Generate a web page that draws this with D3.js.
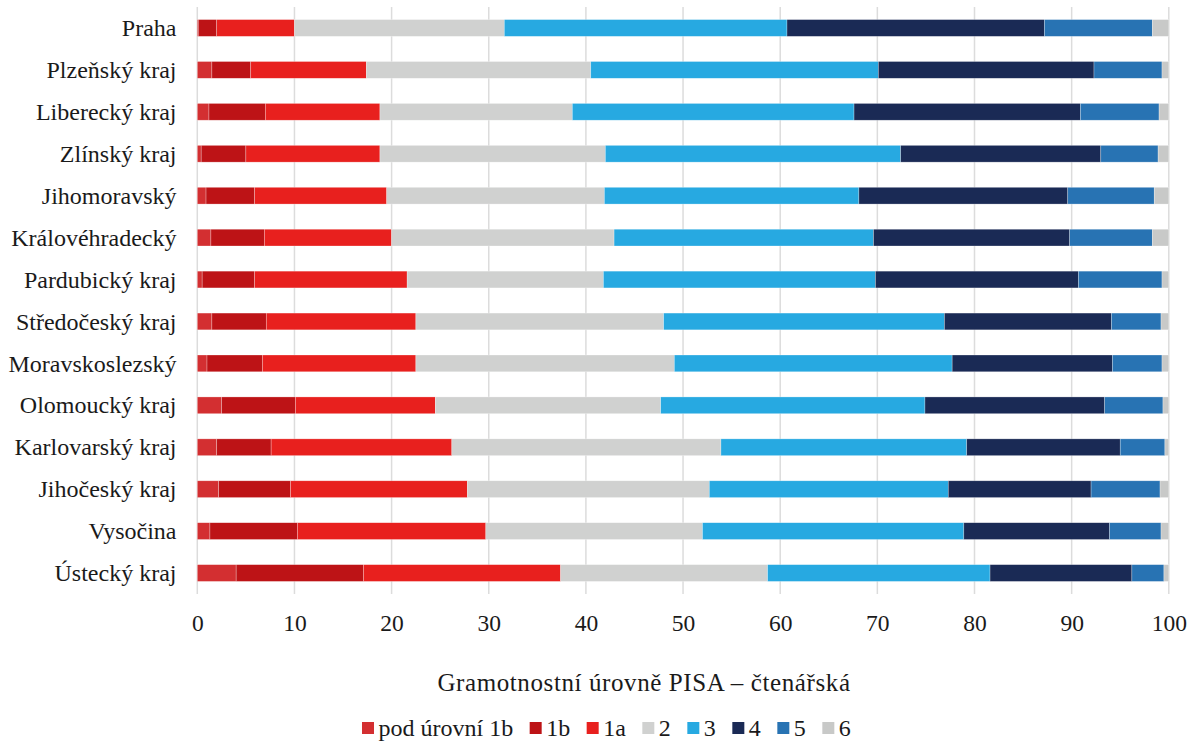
<!DOCTYPE html>
<html>
<head>
<meta charset="utf-8">
<script src="https://cdn.jsdelivr.net/npm/d3@7"></script>
</head>
<body style="margin:0">
<svg id="chart" width="1189" height="742" style="display:block"></svg>
<script>
// Kraje (shora dolů)
const regions = [
  "Praha", "Plzeňský kraj", "Liberecký kraj", "Zlínský kraj", "Jihomoravský",
  "Královéhradecký", "Pardubický kraj", "Středočeský kraj", "Moravskoslezský",
  "Olomoucký kraj", "Karlovarský kraj", "Jihočeský kraj", "Vysočina", "Ústecký kraj"
];

// Úrovně gramotnosti a podíly žáků (%) v pořadí krajů
const levels = ["pod úrovní 1b", "1b", "1a", "2", "3", "4", "5", "6"];
const podUrovni1b = [0.1, 1.5, 1.2, 0.4, 0.9, 1.4, 0.5, 1.5, 1.0, 2.5, 2.0, 2.2, 1.3, 4.0];
const uroven1b    = [1.9, 4.0, 5.8, 4.6, 5.0, 5.5, 5.4, 5.6, 5.7, 7.6, 5.6, 7.4, 9.0, 13.1];
const uroven1a    = [8.0, 11.9, 11.8, 13.8, 13.6, 13.1, 15.7, 15.4, 15.8, 14.4, 18.6, 18.2, 19.4, 20.3];
const uroven2     = [21.6, 23.1, 19.8, 23.2, 22.4, 22.9, 20.2, 25.5, 26.6, 23.2, 27.7, 24.9, 22.3, 21.3];
const uroven3     = [29.1, 29.6, 29.0, 30.4, 26.2, 26.7, 28.0, 28.9, 28.6, 27.2, 25.3, 24.6, 26.9, 22.9];
const uroven4     = [26.5, 22.2, 23.3, 20.6, 21.5, 20.2, 20.9, 17.2, 16.5, 18.5, 15.8, 14.7, 15.0, 14.6];
const uroven5     = [11.1, 7.0, 8.1, 5.9, 8.9, 8.5, 8.6, 5.1, 5.1, 6.0, 4.6, 7.1, 5.3, 3.3];
const uroven6     = [1.7, 0.7, 1.0, 1.1, 1.5, 1.7, 0.7, 0.8, 0.7, 0.6, 0.4, 0.9, 0.8, 0.5];

const xTicks = [0, 10, 20, 30, 40, 50, 60, 70, 80, 90, 100];
const axisTitle = "Gramotnostní úrovně PISA – čtenářská";

const colors = ["#d32f31", "#bd1316", "#e8201e", "#d0d1d0", "#27a9e1", "#1a2a55", "#2873b3", "#c8c9c8"];

const seriesValues = [podUrovni1b, uroven1b, uroven1a, uroven2, uroven3, uroven4, uroven5, uroven6];
const rows = regions.map((r, i) => {
  const o = { region: r };
  levels.forEach((l, j) => { o[l] = seriesValues[j][i]; });
  return o;
});

const FONT = '"Liberation Serif", "Times New Roman", serif';
const TEXT_COLOR = "#1a1a1a";
const svg = d3.select("#chart");

const x = d3.scaleLinear().domain([0, 100]).range([197.3, 1168.8]);
const y = d3.scaleBand().domain(regions).range([7, 594]).paddingInner(0.6).paddingOuter(0.3);
const color = d3.scaleOrdinal().domain(levels).range(colors);

// svislá mřížka
svg.append("g")
  .selectAll("line")
  .data(xTicks)
  .join("line")
  .attr("x1", d => x(d)).attr("x2", d => x(d))
  .attr("y1", 7).attr("y2", 594)
  .attr("stroke", "#dcdcdc")
  .attr("stroke-width", 1.5);

// skládané pruhy
const stacked = d3.stack().keys(levels)(rows);
svg.append("g")
  .selectAll("g")
  .data(stacked)
  .join("g")
  .attr("fill", d => color(d.key))
  .selectAll("rect")
  .data(d => d)
  .join("rect")
  .attr("x", d => x(d[0]))
  .attr("y", d => y(d.data.region))
  .attr("width", d => Math.max(0, x(d[1]) - x(d[0])))
  .attr("height", y.bandwidth())
  .attr("stroke", "rgba(255,255,255,0.45)")
  .attr("stroke-width", 0.6);

// popisky krajů
const yAxis = d3.axisLeft(y).tickSize(0).tickPadding(0);
svg.append("g")
  .attr("transform", "translate(176.5,0)")
  .call(yAxis)
  .call(g => g.select(".domain").remove())
  .selectAll("text")
  .attr("dy", "0.34em")
  .style("font-family", FONT)
  .style("font-size", "24px")
  .attr("fill", TEXT_COLOR);

// hodnoty na ose x
const xAxis = d3.axisBottom(x).tickValues(xTicks).tickSize(0).tickPadding(0);
svg.append("g")
  .attr("transform", "translate(0,631)")
  .call(xAxis)
  .call(g => g.select(".domain").remove())
  .selectAll("text")
  .attr("dy", 0)
  .style("font-family", FONT)
  .style("font-size", "23.5px")
  .attr("fill", TEXT_COLOR);

// název osy
svg.append("text")
  .attr("x", 644)
  .attr("y", 691)
  .attr("text-anchor", "middle")
  .style("font-family", FONT)
  .style("font-size", "25px")
  .style("letter-spacing", "0.6px")
  .attr("fill", TEXT_COLOR)
  .text(axisTitle);

// legenda – čtvereček, mezera, popisek
const legend = svg.append("g").attr("transform", "translate(362,722)");
let cursor = 0;
levels.forEach(l => {
  const item = legend.append("g").attr("transform", `translate(${cursor},0)`);
  item.append("rect").attr("width", 12).attr("height", 12).attr("fill", color(l));
  const t = item.append("text")
    .attr("x", 16.5).attr("y", 13.5)
    .style("font-family", FONT)
    .style("font-size", "24px")
    .attr("fill", TEXT_COLOR)
    .text(l);
  cursor += 16.5 + t.node().getComputedTextLength() + 16.5;
});
</script>
</body>
</html>
